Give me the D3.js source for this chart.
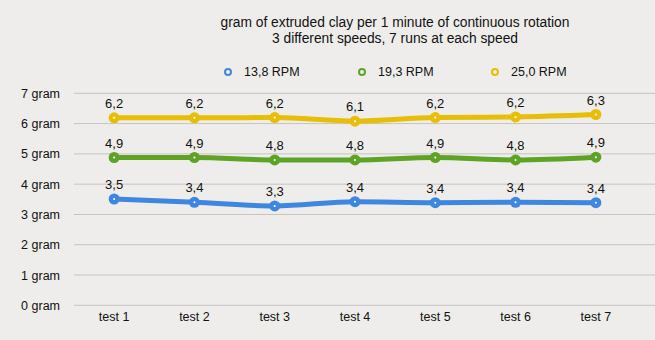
<!DOCTYPE html>
<html><head><meta charset="utf-8">
<script src="https://cdn.jsdelivr.net/npm/d3@7"></script>
<style>
html,body{margin:0;padding:0;background:#efedeb;}
svg{display:block;font-family:"Liberation Sans",Arial,Helvetica,sans-serif;}
</style></head>
<body>
<script>
const titleLines = ["gram of extruded clay per 1 minute of continuous rotation", "3 different speeds, 7 runs at each speed"];
const categories = ["test 1","test 2","test 3","test 4","test 5","test 6","test 7"];
const seriesNames = ["13,8 RPM","19,3 RPM","25,0 RPM"];
const rpm138 = [3.51, 3.40, 3.28, 3.42, 3.39, 3.40, 3.39];
const rpm193 = [4.88, 4.88, 4.80, 4.80, 4.88, 4.80, 4.89];
const rpm250 = [6.19, 6.19, 6.20, 6.08, 6.20, 6.22, 6.30];
const yTicks = [0,1,2,3,4,5,6,7];
const colors = ["#3d87e0", "#5ea325", "#e8be00"];

const W = 655, H = 340;
const svg = d3.select("body").append("svg").attr("width", W).attr("height", H);
svg.append("rect").attr("width", W).attr("height", H).attr("fill", "#efedeb");

const x = d3.scaleBand().domain(categories).range([74, 636]);
const y = d3.scaleLinear().domain([0, 7]).range([305.3, 93.3]);

// title
svg.append("g").selectAll("text").data(titleLines).join("text")
  .attr("x", 395).attr("y", (d, i) => 27 + i * 16)
  .attr("text-anchor", "middle").attr("font-size", 13.8).attr("fill", "#111")
  .text(d => d);

// grid
svg.append("g").selectAll("line").data(yTicks).join("line")
  .attr("x1", 74).attr("x2", W).attr("y1", d => y(d)).attr("y2", d => y(d))
  .attr("stroke", "#c6c4c2").attr("stroke-width", 1);

// y axis labels
const yAxis = d3.axisLeft(y).tickValues(yTicks).tickSize(0).tickPadding(0).tickFormat(d => d + " gram");
const ya = svg.append("g").attr("transform", "translate(60,0)").call(yAxis);
ya.select(".domain").remove();
ya.selectAll("text").attr("font-size", 12.5).attr("fill", "#111").attr("font-family", "Liberation Sans, Arial, sans-serif");

// x axis labels
const xAxis = d3.axisBottom(x).tickSize(0).tickPadding(0);
const xa = svg.append("g").attr("transform", "translate(0,312)").call(xAxis);
xa.select(".domain").remove();
xa.selectAll("text").attr("font-size", 12.5).attr("fill", "#111").attr("font-family", "Liberation Sans, Arial, sans-serif");

// legend
const legX = [228, 362, 495];
const leg = svg.append("g").selectAll("g").data(seriesNames).join("g")
  .attr("transform", (d, i) => `translate(${legX[i]},72)`);
leg.append("circle").attr("r", 3).attr("fill", "none").attr("stroke", (d, i) => colors[i]).attr("stroke-width", 2);
leg.append("text").attr("x", 16).attr("dy", "0.35em").attr("font-size", 12.5).attr("fill", "#111").text(d => d);

// series
const series = [rpm138, rpm193, rpm250];
const line = d3.line().x((d, i) => x(categories[i]) + x.bandwidth() / 2).y(d => y(d)).curve(d3.curveMonotoneX);
const fmt = v => d3.format(".1f")(v).replace(".", ",");

series.forEach((vals, si) => {
  const g = svg.append("g");
  g.append("path").datum(vals).attr("d", line).attr("fill", "none")
    .attr("stroke", colors[si]).attr("stroke-width", 5).attr("stroke-linecap", "round");
  g.selectAll("circle.m").data(vals).join("circle").attr("class", "m")
    .attr("cx", (d, i) => x(categories[i]) + x.bandwidth() / 2).attr("cy", d => y(d))
    .attr("r", 5.5).attr("fill", colors[si]);
  g.selectAll("circle.c").data(vals).join("circle").attr("class", "c")
    .attr("cx", (d, i) => x(categories[i]) + x.bandwidth() / 2).attr("cy", d => y(d))
    .attr("r", 1).attr("fill", "#fff");
  g.selectAll("text").data(vals).join("text")
    .attr("x", (d, i) => x(categories[i]) + x.bandwidth() / 2).attr("y", d => y(d) - 10)
    .attr("text-anchor", "middle").attr("font-size", 13).attr("fill", "#111")
    .text(d => fmt(d));
});
</script>
</body></html>
